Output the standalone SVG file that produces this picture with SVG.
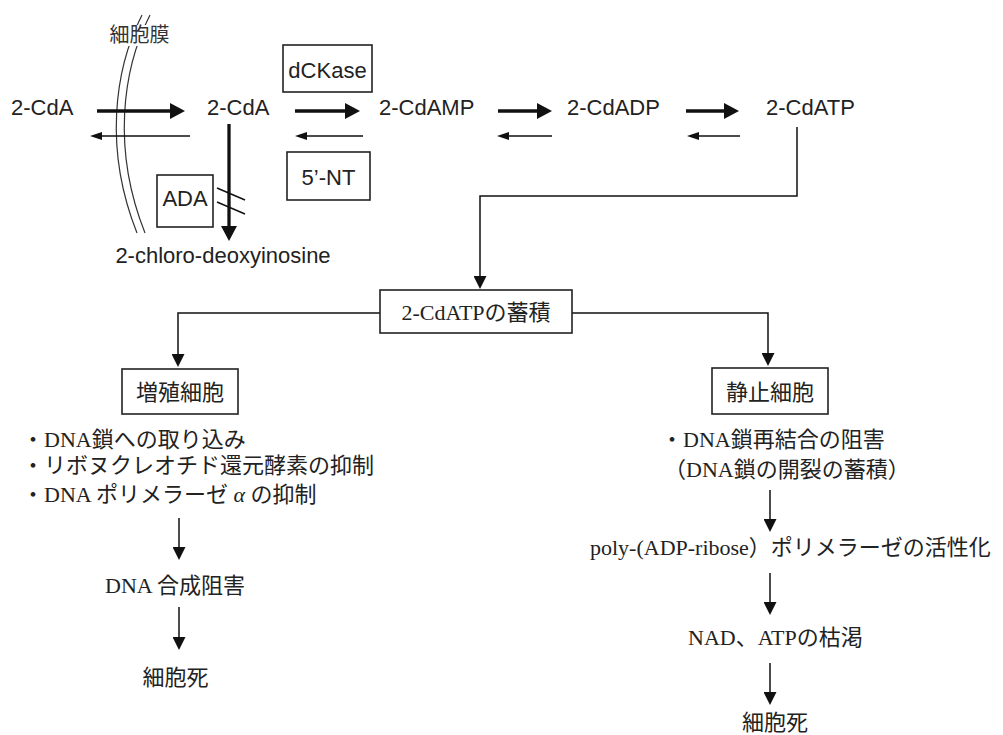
<svg xmlns="http://www.w3.org/2000/svg" width="1003" height="735" viewBox="0 0 1003 735">
<defs>
<style>
.sans{font-family:"Liberation Sans",Arial,"Noto Sans CJK JP",sans-serif;font-size:22px;fill:#222}
.jp{font-family:"Liberation Sans","Noto Sans CJK JP",sans-serif;font-size:20px;fill:#333}
.ser{font-family:"Liberation Serif","Noto Sans CJK JP",serif;font-size:22px;fill:#222}
.box{fill:#fff;stroke:#222;stroke-width:1.6}
.thick{stroke:#111;stroke-width:3.3;fill:none}
.thin{stroke:#111;stroke-width:1.5;fill:none}
.mem{stroke:#333;stroke-width:1.2;fill:none}
</style>
<marker id="hBig" markerUnits="userSpaceOnUse" markerWidth="15" markerHeight="16" refX="10" refY="8" orient="auto"><path d="M0,0 L15,8 L0,16 z" fill="#111"/></marker>
<marker id="hSmall" markerUnits="userSpaceOnUse" markerWidth="12" markerHeight="8" refX="8" refY="4" orient="auto"><path d="M0,0 L12,4 L0,8 z" fill="#111"/></marker>
<marker id="hMid" markerUnits="userSpaceOnUse" markerWidth="13" markerHeight="13" refX="9" refY="6.5" orient="auto"><path d="M0,0 L13,6.5 L0,13 z" fill="#111"/></marker>
</defs>
<rect width="1003" height="735" fill="#fff"/>

<g id="membrane">
<path class="mem" d="M142,15 C114,70 104,150 137,233"/>
<path class="mem" d="M150,15 C122,70 112,150 145,233"/>
<rect x="104" y="25" width="72" height="21" fill="#fff"/>
<text class="jp" x="139.5" y="42" text-anchor="middle">細胞膜</text>
</g>

<g id="connectors">
<line class="thick" x1="97" y1="111" x2="180" y2="111" marker-end="url(#hBig)"/>
<line class="thick" x1="295" y1="111" x2="355" y2="111" marker-end="url(#hBig)"/>
<line class="thick" x1="498" y1="111" x2="547" y2="111" marker-end="url(#hBig)"/>
<line class="thick" x1="686" y1="111" x2="734" y2="111" marker-end="url(#hBig)"/>
<line class="thin" x1="190" y1="136" x2="94" y2="136" marker-end="url(#hSmall)"/>
<line class="thin" x1="363" y1="136" x2="299" y2="136" marker-end="url(#hSmall)"/>
<line class="thin" x1="552" y1="136" x2="501" y2="136" marker-end="url(#hSmall)"/>
<line class="thin" x1="740" y1="136" x2="691" y2="136" marker-end="url(#hSmall)"/>
<line class="thick" x1="229" y1="124" x2="229" y2="236" marker-end="url(#hBig)"/>
<line class="thin" x1="217" y1="188" x2="245" y2="200"/>
<line class="thin" x1="217" y1="202" x2="245" y2="214"/>
<polyline class="thin" points="797,127 797,196 480,196 480,285" marker-end="url(#hMid)"/>
<polyline class="thin" points="380,313 178,313 178,363" marker-end="url(#hMid)"/>
<polyline class="thin" points="572,313 768,313 768,362" marker-end="url(#hMid)"/>
<line class="thin" x1="179" y1="518" x2="179" y2="556" marker-end="url(#hMid)"/>
<line class="thin" x1="179" y1="607" x2="179" y2="646" marker-end="url(#hMid)"/>
<line class="thin" x1="770" y1="490" x2="770" y2="528" marker-end="url(#hMid)"/>
<line class="thin" x1="770" y1="573" x2="770" y2="611" marker-end="url(#hMid)"/>
<line class="thin" x1="770" y1="663" x2="770" y2="701" marker-end="url(#hMid)"/>
</g>

<g id="cda_out"><text class="sans" x="11" y="115">2-CdA</text></g>
<g id="cda_in"><text class="sans" x="207" y="115">2-CdA</text></g>
<g id="cdamp"><text class="sans" x="379" y="115">2-CdAMP</text></g>
<g id="cdadp"><text class="sans" x="567" y="115">2-CdADP</text></g>
<g id="cdatp"><text class="sans" x="766" y="115">2-CdATP</text></g>
<g id="dckase"><rect class="box" x="283" y="45" width="89" height="47"/><text class="sans" x="327.5" y="78" text-anchor="middle">dCKase</text></g>
<g id="nt5"><rect class="box" x="287" y="152" width="83" height="48"/><text class="sans" x="328.5" y="185" text-anchor="middle">5’-NT</text></g>
<g id="ada"><rect class="box" x="157" y="175" width="56" height="52"/><text class="sans" x="185" y="206" text-anchor="middle">ADA</text></g>
<g id="chloro"><text class="sans" x="223" y="263" text-anchor="middle">2-chloro-deoxyinosine</text></g>

<g id="accum"><rect class="box" x="380" y="290" width="192" height="43"/><text class="ser" x="476" y="320" text-anchor="middle">2-CdATPの蓄積</text></g>
<g id="prolif"><rect class="box" x="122" y="369" width="116" height="45"/><text class="ser" x="180" y="400" text-anchor="middle">増殖細胞</text></g>
<g id="quiescent"><rect class="box" x="712" y="368" width="116" height="46"/><text class="ser" x="770" y="400" text-anchor="middle">静止細胞</text></g>

<g id="prolif_list">
<text class="ser" x="22" y="447">・DNA鎖への取り込み</text>
<text class="ser" x="22" y="473">・リボヌクレオチド還元酵素の抑制</text>
<text class="ser" x="22" y="502">・DNA ポリメラーゼ <tspan font-style="italic">α</tspan> の抑制</text>
</g>
<g id="dna_inhib"><text class="ser" x="175" y="593" text-anchor="middle">DNA 合成阻害</text></g>
<g id="death_left"><text class="ser" x="175.5" y="685" text-anchor="middle">細胞死</text></g>

<g id="quies_list">
<text class="ser" x="661" y="447">・DNA鎖再結合の阻害</text>
<text class="ser" x="664" y="477">（DNA鎖の開裂の蓄積）</text>
</g>
<g id="parp"><text class="ser" x="590" y="555">poly-(ADP-ribose）ポリメラーゼの活性化</text></g>
<g id="nad"><text class="ser" x="688" y="645">NAD、ATPの枯渇</text></g>
<g id="death_right"><text class="ser" x="775" y="730" text-anchor="middle">細胞死</text></g>
</svg>
